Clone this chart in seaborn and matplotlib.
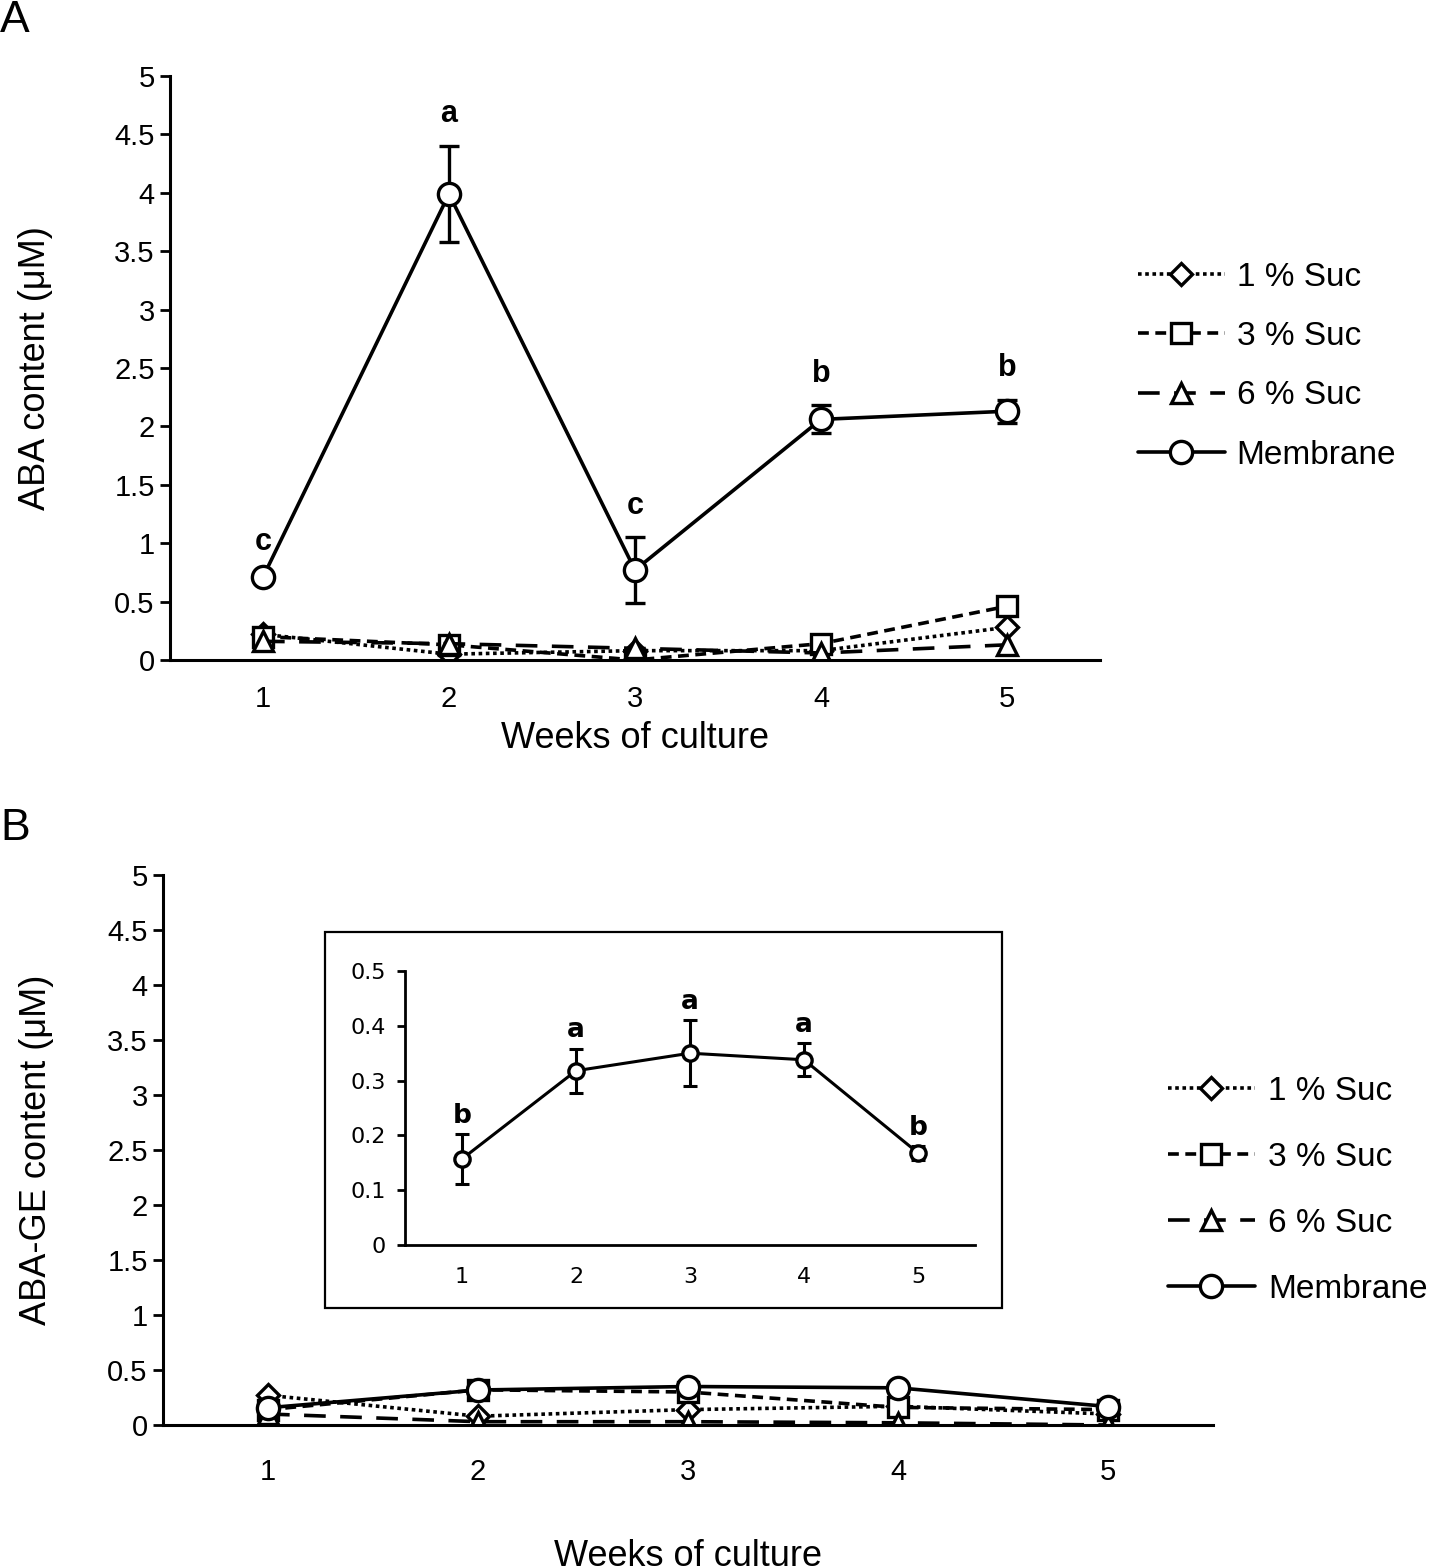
import numpy as np
import pandas as pd
import matplotlib
matplotlib.use("Agg")
import matplotlib.pyplot as plt
from matplotlib.patches import Rectangle
import seaborn as sns

sns.set_theme(style="ticks")
plt.rcParams["font.family"] = ["Liberation Sans", "DejaVu Sans"]
plt.rcParams["text.color"] = "black"
plt.rcParams["axes.labelcolor"] = "black"
plt.rcParams["xtick.color"] = "black"
plt.rcParams["ytick.color"] = "black"
plt.rcParams["axes.edgecolor"] = "black"

weeks = [1, 2, 3, 4, 5]
series_names = ["1 % Suc", "3 % Suc", "6 % Suc", "Membrane"]

# Panel A: ABA content (uM)
aba_suc1 = [0.22, 0.05, 0.08, 0.08, 0.28]
aba_suc3 = [0.20, 0.13, 0.00, 0.14, 0.46]
aba_suc6 = [0.16, 0.14, 0.10, 0.06, 0.13]
aba_membrane = [0.71, 3.99, 0.77, 2.06, 2.13]
aba_membrane_err = [0.03, 0.41, 0.28, 0.12, 0.10]
aba_letters = ["c", "a", "c", "b", "b"]

# Panel B: ABA-GE content (uM)
abage_suc1 = [0.27, 0.08, 0.14, 0.17, 0.10]
abage_suc3 = [0.14, 0.32, 0.30, 0.16, 0.14]
abage_suc6 = [0.10, 0.03, 0.03, 0.02, 0.00]
abage_membrane = [0.157, 0.318, 0.350, 0.338, 0.168]
abage_membrane_err = [0.045, 0.040, 0.060, 0.030, 0.012]
abage_letters = ["b", "a", "a", "a", "b"]

styles = {
    "1 % Suc": dict(marker="D", ms=11, ls=(0, (1, 1.0))),
    "3 % Suc": dict(marker="s", ms=15, ls=(0, (3, 1.8))),
    "6 % Suc": dict(marker="^", ms=15, ls=(0, (6, 4))),
    "Membrane": dict(marker="o", ms=16, ls="-"),
}

W, H = 1432, 1566
fig = plt.figure(figsize=(W / 100, H / 100), dpi=100)


def px_axes(l, t, r, b):
    return fig.add_axes([l / W, 1 - b / H, (r - l) / W, (b - t) / H])


def draw_panel(ax, data, err, letters, ylabel, letter_off):
    for name, vals in zip(series_names, data):
        st = styles[name]
        df = pd.DataFrame({"week": weeks, "value": vals})
        sns.lineplot(data=df, x="week", y="value", ax=ax, color="black",
                     linewidth=2.6, linestyle=st["ls"], marker=st["marker"],
                     markersize=st["ms"], markerfacecolor="white",
                     markeredgecolor="black", markeredgewidth=2.4,
                     label=name, zorder=3 if name == "Membrane" else 2)
    mem = data[-1]
    ax.errorbar(weeks, mem, yerr=err, fmt="none", ecolor="black",
                elinewidth=2.4, capsize=7, capthick=2.4, zorder=2)
    for w, m, e, lt in zip(weeks, mem, err, letters):
        ax.annotate(lt, (w, m + e), xytext=(0, letter_off), textcoords="offset points",
                    ha="center", va="bottom", fontsize=22, fontweight="bold")
    ax.set_xlim(0.5, 5.5)
    ax.set_ylim(0, 5)
    ax.set_yticks(np.arange(0, 5.01, 0.5))
    ax.set_yticklabels([f"{v:g}" for v in np.arange(0, 5.01, 0.5)])
    ax.set_xticks(weeks)
    ax.tick_params(axis="x", length=0, labelsize=21, pad=18)
    ax.tick_params(axis="y", length=7, width=2, labelsize=21, pad=4)
    for s in ["left", "bottom"]:
        ax.spines[s].set_linewidth(2.2)
    sns.despine(ax=ax)
    ax.set_xlabel("Weeks of culture", fontsize=26)
    ax.set_ylabel(ylabel, fontsize=26)
    ax.get_legend().remove()


# Panel A
axA = px_axes(170, 76, 1100, 660)
draw_panel(axA, [aba_suc1, aba_suc3, aba_suc6, aba_membrane], aba_membrane_err,
           aba_letters, "ABA content (\u03bcM)", 12)
axA.xaxis.labelpad = 6
axA.yaxis.labelpad = 44
h, l = axA.get_legend_handles_labels()
fig.legend(h, l, loc="center left", bbox_to_anchor=(1138 / W, 1 - 366 / H),
           frameon=False, fontsize=24, handlelength=2.6, handletextpad=0.36,
           labelspacing=0.85, borderaxespad=0, borderpad=0)

# Panel B
axB = px_axes(163, 875, 1213, 1425)
draw_panel(axB, [abage_suc1, abage_suc3, abage_suc6, abage_membrane],
           [0] * 5, [""] * 5, "ABA-GE content (\u03bcM)", 0)
axB.tick_params(axis="x", pad=24)
axB.xaxis.labelpad = 38
axB.yaxis.labelpad = 38
h, l = axB.get_legend_handles_labels()
fig.legend(h, l, loc="center left", bbox_to_anchor=(1168 / W, 1 - 1190 / H),
           frameon=False, fontsize=24, handlelength=2.6, handletextpad=0.4,
           labelspacing=1.05, borderaxespad=0, borderpad=0)

# Inset box
fig.patches.append(Rectangle((325 / W, 1 - 1308 / H), 677 / W, 376 / H,
                             transform=fig.transFigure, fill=False,
                             edgecolor="black", linewidth=1.6, zorder=5))

inset_font = ["Liberation Sans Narrow", "DejaVu Sans"]
axI = px_axes(405, 971, 975, 1245)
axI.set_zorder(6)
dfI = pd.DataFrame({"week": weeks, "value": abage_membrane})
sns.lineplot(data=dfI, x="week", y="value", ax=axI, color="black", linewidth=2.2,
             marker="o", markersize=11, markerfacecolor="white",
             markeredgecolor="black", markeredgewidth=2.4)
axI.errorbar(weeks, abage_membrane, yerr=abage_membrane_err, fmt="none",
             ecolor="black", elinewidth=2.2, capsize=5, capthick=2.2, zorder=1)
for w, m, e, lt in zip(weeks, abage_membrane, abage_membrane_err, abage_letters):
    axI.annotate(lt, (w, m + e), xytext=(0, 4), textcoords="offset points",
                 ha="center", va="bottom", fontsize=19, fontweight="bold",
                 family=inset_font)
axI.set_xlim(0.5, 5.5)
axI.set_ylim(0, 0.5)
axI.set_yticks(np.arange(0, 0.51, 0.1))
axI.set_yticklabels([f"{v:g}" for v in np.arange(0, 0.51, 0.1)])
axI.set_xticks(weeks)
axI.tick_params(axis="x", length=0, labelsize=16, pad=16)
axI.tick_params(axis="y", length=6, width=2, labelsize=16, pad=8)
for lab in axI.get_xticklabels() + axI.get_yticklabels():
    lab.set_family(inset_font)
for s in ["left", "bottom"]:
    axI.spines[s].set_linewidth(2.0)
sns.despine(ax=axI)
axI.set_xlabel("")
axI.set_ylabel("")
axI.patch.set_alpha(0)

fig.text(0, 1 - 20 / H, "A", fontsize=32, va="center", ha="left")
fig.text(0, 1 - 828 / H, "B", fontsize=32, va="center", ha="left")

fig.savefig("out.png", dpi=100)
